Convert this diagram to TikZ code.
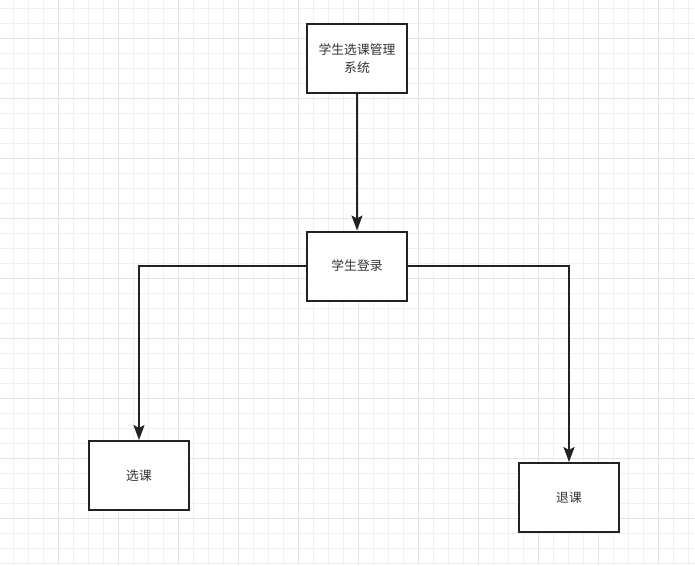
\documentclass[tikz,border=0pt]{standalone}
\usepackage{fontspec}
\usepackage{xcolor}
\usepackage{tikz}
\usetikzlibrary{arrows.meta,positioning}
\newfontfamily\cjk{Noto Sans CJK SC}
\definecolor{fcGrid}{HTML}{F0F0F0}
\definecolor{fcGridMajor}{HTML}{E4E4E4}
\definecolor{fcLine}{HTML}{222222}
\definecolor{fcText}{HTML}{333333}

\tikzset{
  fcbox/.style={draw=fcLine,line width=2pt,fill=white,minimum width=100pt,
                minimum height=69pt,inner sep=2pt,align=center,text=fcText,
                font=\cjk\fontsize{12.8}{17.5}\selectfont},
  fcarrow/.style={draw=fcLine,line width=2pt,-{Stealth[length=15pt,width=11pt,inset=3pt]}}
}

\begin{document}
\begin{tikzpicture}[x=1pt,y=-1pt]
    \useasboundingbox (0,0) rectangle (695,565);
    \fill[white] (0,0) rectangle (695,565);
    % grid
    \foreach \x in {13.5,28.5,...,688.5}
      \draw[fcGrid,line width=0.7pt] (\x,0) -- (\x,565);
    \foreach \y in {8.5,23.5,...,563.5}
      \draw[fcGrid,line width=0.7pt] (0,\y) -- (695,\y);
    \foreach \x in {58.5,118.5,...,658.5}
      \draw[fcGridMajor,line width=0.7pt] (\x,0) -- (\x,565);
    \foreach \y in {38.5,98.5,...,518.5}
      \draw[fcGridMajor,line width=0.7pt] (0,\y) -- (695,\y);

    \node[fcbox] (sys)    at (357,58.5)  {学生选课管理\\系统};
    \node[fcbox] (login)  at (357,266)   {学生登录};
    \node[fcbox] (xuanke) at (139,475.5) {选课};
    \node[fcbox] (tuike)  at (569,497.5) {退课};

    \draw[fcarrow] (sys) -- (login);
    \draw[fcarrow] (login.west) -| (xuanke.north);
    \draw[fcarrow] (login.east) -| (tuike.north);
  \end{tikzpicture}
\end{document}
